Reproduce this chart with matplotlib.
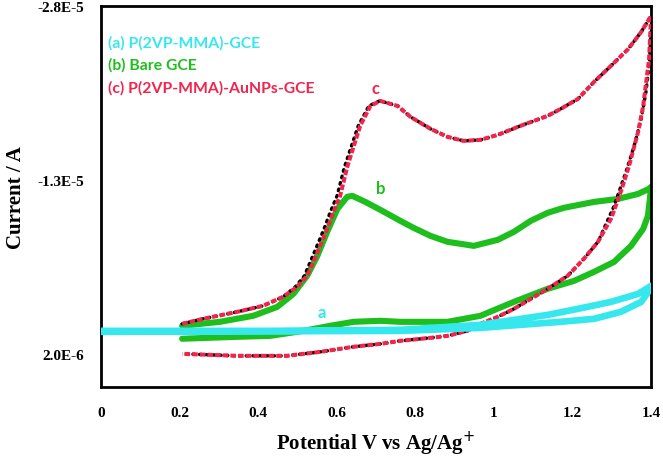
import matplotlib
matplotlib.use("Agg")
import matplotlib.pyplot as plt

# ---------- data (potential in V, current in units of 1e-6 A) ----------
# (c) P(2VP-MMA)-AuNPs-GCE: forward scan then reverse scan
c_v = [0.207, 0.260, 0.347, 0.413, 0.464, 0.500, 0.525, 0.541, 0.558, 0.576,
       0.592, 0.609, 0.627, 0.643, 0.660, 0.686, 0.711, 0.755, 0.788, 0.839,
       0.882, 0.923, 0.966, 1.010, 1.068, 1.137, 1.170, 1.214, 1.255, 1.298,
       1.342, 1.375, 1.400,
       1.395, 1.380, 1.367, 1.344, 1.323, 1.298, 1.265, 1.229, 1.188, 1.137,
       1.094, 1.051, 1.010, 0.966, 0.933, 0.882, 0.839, 0.762, 0.711, 0.643,
       0.558, 0.474, 0.347, 0.207]
c_i = [-0.59, -1.02, -1.62, -2.14, -2.92, -3.78, -4.73, -5.93, -7.31, -8.78,
       -10.24, -11.62, -14.12, -15.85, -17.66, -19.38, -19.81, -19.38, -18.43, -17.40,
       -16.71, -16.36, -16.45, -16.88, -17.66, -18.52, -19.12, -19.98, -21.45, -22.83,
       -24.29, -25.76, -27.14,
       -23.43, -19.38, -17.14, -14.21, -11.97, -9.64, -7.66, -6.19, -4.73, -3.61,
       -2.74, -1.88, -1.19, -0.59, 0.02, 0.45, 0.62, 0.88, 1.14, 1.39,
       1.83, 2.17, 2.17, 2.00]

# black dotted cycle lying under (c)
k_v = [0.207, 0.260, 0.347, 0.413, 0.464, 0.495, 0.518, 0.533, 0.550, 0.568,
       0.584, 0.601, 0.620, 0.637, 0.655, 0.682, 0.709, 0.755, 0.788, 0.839,
       0.882, 0.923, 0.966, 1.010, 1.068, 1.137, 1.170, 1.214, 1.255, 1.298,
       1.342, 1.375, 1.400,
       1.400, 1.395, 1.387, 1.375, 1.357, 1.336, 1.306, 1.265, 1.229, 1.188, 1.137,
       1.094, 1.051, 1.010, 0.966, 0.933, 0.882, 0.839, 0.762, 0.711, 0.643,
       0.558, 0.474, 0.347, 0.207]
k_i = [-0.59, -1.02, -1.62, -2.14, -2.92, -3.78, -4.73, -5.93, -7.31, -8.78,
       -10.24, -11.62, -14.12, -15.85, -17.66, -19.38, -19.81, -19.38, -18.43, -17.40,
       -16.71, -16.36, -16.45, -16.88, -17.66, -18.52, -19.12, -19.98, -21.45, -22.83,
       -24.29, -25.76, -27.14,
       -25.76, -22.83, -20.59, -18.26, -15.93, -13.69, -10.76, -7.66, -6.19, -4.73, -3.61,
       -2.74, -1.88, -1.19, -0.59, 0.02, 0.45, 0.62, 0.88, 1.14, 1.39,
       1.83, 2.17, 2.17, 2.00]

# (b) Bare GCE
b_v = [0.207, 0.303, 0.388, 0.449, 0.490, 0.525, 0.551, 0.576, 0.602, 0.627,
       0.640, 0.673, 0.711, 0.762, 0.796, 0.839, 0.882, 0.949, 1.010, 1.051,
       1.094, 1.137, 1.178, 1.255, 1.316, 1.367, 1.395, 1.400,
       1.397, 1.392, 1.380, 1.349, 1.306, 1.255, 1.204, 1.137, 1.051, 0.966,
       0.882, 0.796, 0.762, 0.711, 0.643, 0.584, 0.515, 0.431, 0.347, 0.207]
b_i = [-0.42, -0.76, -1.28, -2.05, -3.17, -4.73, -6.45, -8.52, -10.50, -11.54,
       -11.62, -11.10, -10.42, -9.47, -8.86, -8.17, -7.66, -7.31, -7.83, -8.52,
       -9.47, -10.16, -10.59, -11.10, -11.36, -11.79, -12.23, -12.40,
       -11.36, -9.90, -8.78, -7.31, -5.93, -5.07, -4.29, -3.61, -2.48, -1.28,
       -0.76, -0.76, -0.76, -0.85, -0.76, -0.42, 0.02, 0.45, 0.53, 0.70]

# (a) P(2VP-MMA)-GCE
a_v = [0.0, 0.456, 0.762, 0.966, 1.137, 1.214, 1.298, 1.367, 1.400,
       1.398, 1.375, 1.323, 1.255, 1.170, 0.966, 0.762, 0.0]
a_i = [0.02, 0.02, -0.07, -0.50, -1.36, -1.88, -2.48, -3.17, -3.86,
       -3.61, -2.48, -1.62, -1.02, -0.76, -0.24, 0.02, 0.10]

x_ticks = [0, 0.2, 0.4, 0.6, 0.8, 1.0, 1.2, 1.4]
x_labels = ["0", "0.2", "0.4", "0.6", "0.8", "1", "1.2", "1.4"]
y_ticks = [-2.8e-5, -1.3e-5, 2.0e-6]
y_labels = ["-2.8E-5", "-1.3E-5", "2.0E-6"]
legend_names = ["(a) P(2VP-MMA)-GCE", "(b) Bare GCE", "(c) P(2VP-MMA)-AuNPs-GCE"]

cyan = "#36E8EE"
green = "#1EBE1E"
red = "#F2244C"

scale = 1e-6
fig = plt.figure(figsize=(6.63, 4.6), dpi=100)
ax = fig.add_axes([0.152, 0.157, 0.830, 0.828])

ax.plot(b_v, [v * scale for v in b_i], color=green, lw=4.4, solid_capstyle="round",
        solid_joinstyle="round", zorder=2)
ax.plot(k_v, [v * scale for v in k_i], color="black", lw=2.4, linestyle=(0, (0.5, 1.5)),
        dash_capstyle="round", zorder=3)
ax.plot(c_v, [v * scale for v in c_i], color=red, lw=2.9, linestyle=(0, (1.4, 0.5)), zorder=4)
ax.plot(a_v, [v * scale for v in a_i], color=cyan, lw=4.8, solid_capstyle="round",
        solid_joinstyle="round", zorder=5)

ax.set_xlim(0, 1.4)
ax.set_ylim(4.84e-6, -2.8e-5)
ax.set_xticks(x_ticks)
ax.set_xticklabels(x_labels)
ax.set_yticks(y_ticks)
ax.set_yticklabels(y_labels)
ax.tick_params(length=0, pad=14)
ax.tick_params(axis="y", pad=12)
for lab in ax.get_xticklabels() + ax.get_yticklabels():
    lab.set_fontfamily("Liberation Serif")
    lab.set_fontweight("bold")
    lab.set_fontsize(11)
for sp in ax.spines.values():
    sp.set_linewidth(2)

ax.set_xlabel("Potential V vs Ag/Ag$^{+}$", fontfamily="Liberation Serif",
              fontweight="bold", fontsize=15, labelpad=7)
ax.set_ylabel("Current / A", fontfamily="Liberation Serif", fontweight="bold",
              fontsize=15, labelpad=8)

# legend as coloured text
for k, (name, col) in enumerate(zip(legend_names, [cyan, green, red])):
    ax.text(0.014, 0.905 - k * 0.059, name, color=col, transform=ax.transAxes,
            fontfamily="Lato", fontweight="bold", fontsize=11.3, va="center")

# curve letters
ax.text(0.699, -20.9e-6, "c", color=red, fontfamily="Lato", fontweight="bold",
        fontsize=12, ha="center", va="center")
ax.text(0.711, -12.3e-6, "b", color=green, fontfamily="Lato", fontweight="bold",
        fontsize=12, ha="center", va="center")
ax.text(0.562, -1.6e-6, "a", color=cyan, fontfamily="Lato", fontweight="bold",
        fontsize=12, ha="center", va="center")

fig.savefig("out.png", dpi=100)
